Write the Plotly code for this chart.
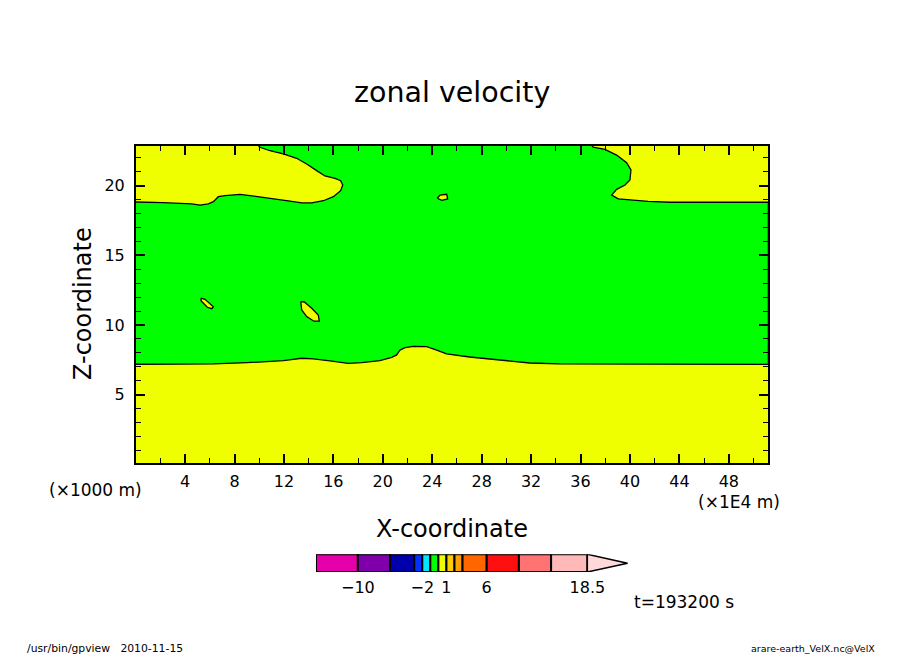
import plotly.graph_objects as go

# boundary between the green (-1..0) and yellow (0..1) regions
lower_x = [0.0, 6.29, 8.99, 11.95, 13.44, 14.38, 15.73, 17.21, 18.29, 19.77, 20.72, 21.12, 21.39, 21.8, 22.47, 23.55, 24.36, 25.17, 27.03, 29.5, 31.9, 34.3, 37.6, 51.2]
lower_z = [7.18, 7.2, 7.29, 7.44, 7.61, 7.56, 7.42, 7.25, 7.29, 7.44, 7.68, 7.85, 8.2, 8.37, 8.47, 8.44, 8.2, 7.92, 7.7, 7.49, 7.27, 7.2, 7.2, 7.17]
right_x = [51.2, 43.24, 41.48, 40.14, 39.05, 38.52, 38.92, 39.6, 40.0, 40.08, 39.73, 38.92, 37.98, 37.03, 36.9]
right_z = [18.81, 18.81, 18.88, 18.95, 19.05, 19.33, 19.74, 20.05, 20.41, 21.13, 21.65, 22.2, 22.61, 22.76, 22.9]
left_x = [9.9, 10.06, 10.87, 11.95, 13.03, 13.84, 14.65, 15.32, 16.13, 16.59, 16.76, 16.59, 16.0, 15.19, 14.25, 13.44, 12.49, 11.14, 9.8, 8.45, 7.23, 6.69, 6.29, 5.88, 5.21, 4.54, 2.24, 0.0]
left_z = [22.9, 22.76, 22.51, 22.28, 21.97, 21.56, 21.08, 20.7, 20.53, 20.36, 20.05, 19.64, 19.21, 18.92, 18.76, 18.76, 18.9, 19.07, 19.24, 19.38, 19.28, 19.21, 18.85, 18.69, 18.61, 18.69, 18.78, 18.83]

# small yellow islands
island_a_x = [5.29, 5.61, 6.29, 6.16, 5.8, 5.29, 5.29]
island_a_z = [11.92, 11.84, 11.31, 11.17, 11.27, 11.74, 11.92]
island_b_x = [13.36, 13.65, 14.25, 14.78, 14.86, 14.43, 13.84, 13.44, 13.36]
island_b_z = [11.67, 11.65, 11.2, 10.72, 10.27, 10.27, 10.6, 11.08, 11.67]
island_c_x = [24.41, 24.63, 25.17, 25.25, 24.77, 24.41]
island_c_z = [19.1, 19.33, 19.38, 19.05, 18.95, 19.1]

# colour bar
level_edges = [-15.2, -10, -6, -3, -2, -1, 0, 1, 2, 3, 6, 10, 14, 18.5]
level_colors = ['#E600AA', '#7F00AA', '#0000AA', '#0033FF', '#00E6FF', '#00FF00', '#F0FF00',
                '#FFCC00', '#FFA000', '#FF6600', '#FF1010', '#FF7373', '#FFB9B9']
bar_ticks = [-10, -2, 1, 6, 18.5]
bar_labels = ['−10', '−2', '1', '6', '18.5']
tip_x = [18.5, 23.5, 18.5, 18.5]
tip_y = [-0.5, 0, 0.5, -0.5]

YELLOW = '#F0FF00'
GREEN = '#00FF00'
FONT = 'DejaVu Sans'
# the page body has an 8px margin, so all pixel spots are shifted back by 8
PAD = 8
W, H = 904, 654


def fx(px):
    return (px - PAD) / W


def fy(py):
    return 1 - (py - PAD) / H


fig = go.Figure()

fig.add_trace(go.Scatter(x=lower_x + right_x + left_x, y=lower_z + right_z + left_z,
                         mode='lines', fill='toself', fillcolor=GREEN,
                         line=dict(color='black', width=1.3), hoverinfo='skip'))
for ix, iz in [(island_a_x, island_a_z), (island_b_x, island_b_z), (island_c_x, island_c_z)]:
    fig.add_trace(go.Scatter(x=ix, y=iz, mode='lines', fill='toself', fillcolor=YELLOW,
                             line=dict(color='black', width=1.3), hoverinfo='skip'))

widths = [b - a for a, b in zip(level_edges[:-1], level_edges[1:])]
fig.add_trace(go.Bar(x=widths, y=[0] * len(widths), base=level_edges[:-1], orientation='h',
                     width=1, marker=dict(color=level_colors, line=dict(color='black', width=2)),
                     xaxis='x2', yaxis='y2', hoverinfo='skip'))
fig.add_trace(go.Scatter(x=tip_x, y=tip_y, mode='lines', fill='toself', fillcolor='#FFD9D9',
                         line=dict(color='black', width=1.5), xaxis='x2', yaxis='y2', hoverinfo='skip'))

fig.update_layout(
    width=W, height=H, margin=dict(l=0, r=0, t=0, b=0), showlegend=False,
    paper_bgcolor='white', plot_bgcolor='white', font=dict(family=FONT, color='black', size=16),
    xaxis=dict(domain=[fx(136), fx(768)], range=[0.03, 51.17], showgrid=False, zeroline=False,
               showline=True, linecolor='black', linewidth=2, mirror='ticks',
               tick0=0, dtick=4, ticks='inside', ticklen=9, tickwidth=2, tickcolor='black',
               minor=dict(tick0=0, dtick=2, ticks='inside', ticklen=5, tickwidth=1, tickcolor='black'),
               ticklabelstandoff=3, anchor='y'),
    yaxis=dict(domain=[fy(463), fy(146)], range=[0.09, 22.85], showgrid=False, zeroline=False,
               showline=True, linecolor='black', linewidth=2, mirror='ticks',
               tick0=0, dtick=5, ticks='inside', ticklen=9, tickwidth=2, tickcolor='black',
               minor=dict(tick0=0, dtick=1, ticks='inside', ticklen=5, tickwidth=1, tickcolor='black'),
               ticklabelstandoff=6, anchor='x'),
    xaxis2=dict(domain=[fx(316), fx(630)], range=[-15.2, 23.8], showgrid=False, zeroline=False,
                tickmode='array', tickvals=bar_ticks, ticktext=bar_labels, ticks='', showline=False,
                ticklabelstandoff=4, anchor='y2'),
    yaxis2=dict(domain=[fy(572), fy(554.3)], range=[-0.5, 0.5], visible=False, anchor='x2'),
)
# yellow only behind the main panel, plot_bgcolor would also paint the colour bar panel
fig.add_shape(type='rect', xref='x domain', yref='y domain', x0=0, x1=1, y0=0, y1=1,
              fillcolor=YELLOW, line_width=0, layer='below')

notes = [
    ('zonal velocity', 452, 93, 28.5, 0, 'center'),
    ('X-coordinate', 452, 529, 24, 0, 'center'),
    ('Z-coordinate', 83, 304, 24, -90, 'center'),
    ('(×1000 m)', 95, 490, 17, 0, 'center'),
    ('(×1E4 m)', 739, 502, 17, 0, 'center'),
    ('t=193200 s', 684, 602, 17, 0, 'center'),
    ('/usr/bin/gpview   2010-11-15', 25, 648, 10.8, 0, 'left'),
    ('arare-earth_VelX.nc@VelX', 877, 648, 9.5, 0, 'right'),
]
for text, px, py, size, angle, align in notes:
    fig.add_annotation(text=text, x=fx(px), y=fy(py), xref='paper', yref='paper',
                       xanchor=align, yanchor='middle', showarrow=False,
                       font=dict(size=size, family=FONT), textangle=angle)

fig.write_html("out.html")
